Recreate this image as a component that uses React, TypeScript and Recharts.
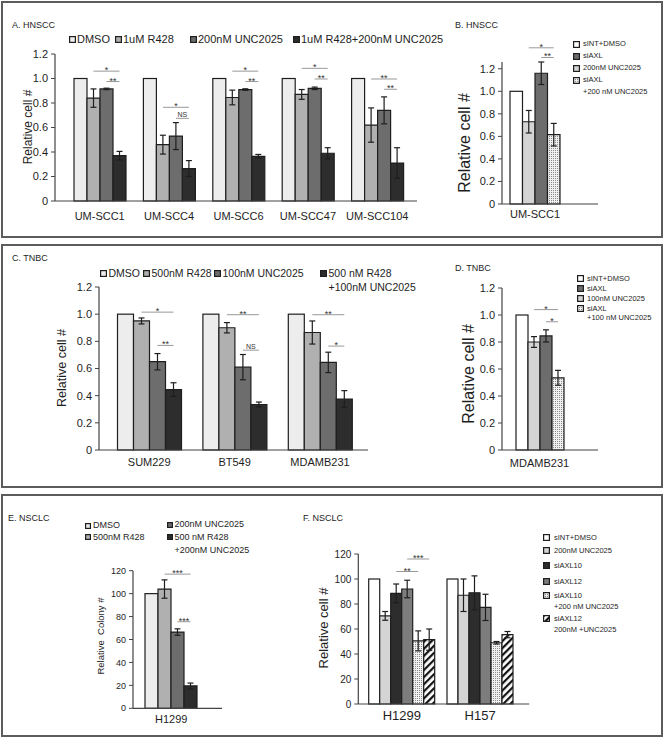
import React from "react";
import { BarChart, Bar, XAxis, YAxis, ErrorBar } from "recharts";

const FONT = '"Liberation Sans", Arial, sans-serif';
const INK = "#1e1e1e";
const AXIS = "#444";
const SIG = "#999";

// colours
const C_DMSO = "#ededed";
const C_R428 = "#b0b0b0";
const C_UNC = "#6d6d6d";
const C_COMBO = "#2d2d2d";
const C_WHITE = "#ffffff";
const C_LIGHT = "#d4d4d4";
const C_SI12 = "#7d7d7d";
const DOTS = "url(#dotFill)";
const HATCH = "url(#hatchFill)";

// ---------- A. HNSCC (drugs)
const hnsccCells = ["UM-SCC1", "UM-SCC4", "UM-SCC6", "UM-SCC47", "UM-SCC104"];
const hnsccDmso = [1, 1, 1, 1, 1];
const hnsccR428 = [0.84, 0.46, 0.845, 0.87, 0.62];
const hnsccR428Err = [0.075, 0.077, 0.06, 0.04, 0.14];
const hnsccUnc = [0.915, 0.53, 0.91, 0.92, 0.74];
const hnsccUncErr = [0.006, 0.11, 0.006, 0.01, 0.11];
const hnsccCombo = [0.37, 0.265, 0.365, 0.39, 0.31];
const hnsccComboErr = [0.035, 0.065, 0.015, 0.045, 0.125];

// ---------- B. HNSCC (siRNA)
const hnsccSiCells = ["UM-SCC1"];
const bCtrl = [1];
const bUnc = [0.73];
const bUncErr = [0.1];
const bSiAxl = [1.16];
const bSiAxlErr = [0.1];
const bCombo = [0.615];
const bComboErr = [0.1];

// ---------- C. TNBC (drugs)
const tnbcCells = ["SUM229", "BT549", "MDAMB231"];
const tnbcDmso = [1, 1, 1];
const tnbcR428 = [0.95, 0.9, 0.865];
const tnbcR428Err = [0.022, 0.038, 0.085];
const tnbcUnc = [0.65, 0.61, 0.645];
const tnbcUncErr = [0.06, 0.093, 0.075];
const tnbcCombo = [0.445, 0.335, 0.375];
const tnbcComboErr = [0.05, 0.018, 0.062];

// ---------- D. TNBC (siRNA)
const tnbcSiCells = ["MDAMB231"];
const dCtrl = [1];
const dUnc = [0.8];
const dUncErr = [0.04];
const dSiAxl = [0.845];
const dSiAxlErr = [0.045];
const dCombo = [0.535];
const dComboErr = [0.055];

// ---------- E. NSCLC colony
const nsclcColonyCells = ["H1299"];
const eDmso = [100];
const eR428 = [104];
const eR428Err = [8];
const eUnc = [66.5];
const eUncErr = [2.8];
const eCombo = [19.5];
const eComboErr = [2.5];

// ---------- F. NSCLC siRNA
const nsclcCells = ["H1299", "H157"];
const fCtrl = [100, 100];
const fUnc = [70.5, 87];
const fUncErr = [3.5, 13];
const fSi10 = [88.5, 89];
const fSi10Err = [7.5, 13.5];
const fSi12 = [92, 77.3];
const fSi12Err = [7, 10.5];
const fSi10Unc = [50.5, 49];
const fSi10UncErr = [8, 1];
const fSi12Unc = [51.5, 55.5];
const fSi12UncErr = [8.5, 2.5];

const ticks12 = [0, 0.2, 0.4, 0.6, 0.8, 1.0, 1.2];
const ticks120 = [0, 20, 40, 60, 80, 100, 120];

type Series = { key: string; name: string; fill: string; values: number[]; errs?: number[] };
type Sig = { cat: string; from: number; to: number; level: number; text: string };

const seriesA: Series[] = [
  { key: "dmso", name: "DMSO", fill: C_DMSO, values: hnsccDmso },
  { key: "r428", name: "1uM R428", fill: C_R428, values: hnsccR428, errs: hnsccR428Err },
  { key: "unc", name: "200nM UNC2025", fill: C_UNC, values: hnsccUnc, errs: hnsccUncErr },
  { key: "combo", name: "1uM R428+200nM UNC2025", fill: C_COMBO, values: hnsccCombo, errs: hnsccComboErr },
];
const sigA: Sig[] = [
  { cat: "UM-SCC1", from: 1, to: 3, level: 1.06, text: "*" },
  { cat: "UM-SCC1", from: 2, to: 3, level: 0.975, text: "**" },
  { cat: "UM-SCC4", from: 1, to: 3, level: 0.765, text: "*" },
  { cat: "UM-SCC4", from: 2, to: 3, level: 0.675, text: "NS" },
  { cat: "UM-SCC6", from: 1, to: 3, level: 1.06, text: "*" },
  { cat: "UM-SCC6", from: 2, to: 3, level: 0.975, text: "**" },
  { cat: "UM-SCC47", from: 1, to: 3, level: 1.083, text: "*" },
  { cat: "UM-SCC47", from: 2, to: 3, level: 0.996, text: "**" },
  { cat: "UM-SCC104", from: 1, to: 3, level: 0.996, text: "**" },
  { cat: "UM-SCC104", from: 2, to: 3, level: 0.912, text: "**" },
];

const seriesB: Series[] = [
  { key: "ctrl", name: "sINT+DMSO", fill: C_WHITE, values: bCtrl },
  { key: "unc", name: "200nM UNC2025", fill: C_LIGHT, values: bUnc, errs: bUncErr },
  { key: "si", name: "siAXL", fill: C_UNC, values: bSiAxl, errs: bSiAxlErr },
  { key: "combo", name: "siAXL\n+200 nM UNC2025", fill: DOTS, values: bCombo, errs: bComboErr },
];
const sigB: Sig[] = [
  { cat: "UM-SCC1", from: 1, to: 3, level: 1.386, text: "*" },
  { cat: "UM-SCC1", from: 2, to: 3, level: 1.3, text: "**" },
];

const seriesC: Series[] = [
  { key: "dmso", name: "DMSO", fill: C_DMSO, values: tnbcDmso },
  { key: "r428", name: "500nM R428", fill: C_R428, values: tnbcR428, errs: tnbcR428Err },
  { key: "unc", name: "100nM UNC2025", fill: C_UNC, values: tnbcUnc, errs: tnbcUncErr },
  { key: "combo", name: "500 nM R428\n+100nM UNC2025", fill: C_COMBO, values: tnbcCombo, errs: tnbcComboErr },
];
const sigC: Sig[] = [
  { cat: "SUM229", from: 1, to: 3, level: 1.015, text: "*" },
  { cat: "SUM229", from: 2, to: 3, level: 0.77, text: "**" },
  { cat: "BT549", from: 1, to: 3, level: 0.996, text: "**" },
  { cat: "BT549", from: 2, to: 3, level: 0.735, text: "NS" },
  { cat: "MDAMB231", from: 1, to: 3, level: 0.996, text: "**" },
  { cat: "MDAMB231", from: 2, to: 3, level: 0.765, text: "*" },
];

const seriesD: Series[] = [
  { key: "ctrl", name: "sINT+DMSO", fill: C_WHITE, values: dCtrl },
  { key: "unc", name: "100nM UNC2025", fill: C_LIGHT, values: dUnc, errs: dUncErr },
  { key: "si", name: "siAXL", fill: C_UNC, values: dSiAxl, errs: dSiAxlErr },
  { key: "combo", name: "siAXL\n+100 nM UNC2025", fill: DOTS, values: dCombo, errs: dComboErr },
];
const sigD: Sig[] = [
  { cat: "MDAMB231", from: 1, to: 3, level: 1.04, text: "*" },
  { cat: "MDAMB231", from: 2, to: 3, level: 0.95, text: "*" },
];

const seriesE: Series[] = [
  { key: "dmso", name: "DMSO", fill: C_DMSO, values: eDmso },
  { key: "r428", name: "500nM R428", fill: C_R428, values: eR428, errs: eR428Err },
  { key: "unc", name: "200nM UNC2025", fill: C_UNC, values: eUnc, errs: eUncErr },
  { key: "combo", name: "500 nM R428\n+200nM UNC2025", fill: C_COMBO, values: eCombo, errs: eComboErr },
];
const sigE: Sig[] = [
  { cat: "H1299", from: 1, to: 3, level: 117, text: "***" },
  { cat: "H1299", from: 2, to: 3, level: 75.5, text: "***" },
];

const seriesF: Series[] = [
  { key: "ctrl", name: "sINT+DMSO", fill: C_WHITE, values: fCtrl },
  { key: "unc", name: "200nM UNC2025", fill: C_LIGHT, values: fUnc, errs: fUncErr },
  { key: "si10", name: "siAXL10", fill: C_COMBO, values: fSi10, errs: fSi10Err },
  { key: "si12", name: "siAXL12", fill: C_SI12, values: fSi12, errs: fSi12Err },
  { key: "si10u", name: "siAXL10\n+200 nM UNC2025", fill: DOTS, values: fSi10Unc, errs: fSi10UncErr },
  { key: "si12u", name: "siAXL12\n200nM +UNC2025", fill: HATCH, values: fSi12Unc, errs: fSi12UncErr },
];
const sigF: Sig[] = [
  { cat: "H1299", from: 2, to: 4, level: 106, text: "**" },
  { cat: "H1299", from: 3, to: 5, level: 116, text: "***" },
];

function toRows(cats: string[], series: Series[]) {
  return cats.map((name, i) => {
    const row: Record<string, string | number> = { name };
    series.forEach((s) => {
      row[s.key] = s.values[i];
      if (s.errs) row[s.key + "Err"] = s.errs[i];
    });
    return row;
  });
}

// first bar of each group also draws the significance lines for that group
function controlShape(sigs: Sig[], key: string) {
  return (p: any) => {
    const { x, y, width, height, payload, fill } = p;
    const base = y + height;
    const perUnit = height / payload[key];
    return (
      <g>
        <rect x={x} y={y} width={width} height={height} fill={fill} stroke={INK} strokeWidth={1.2} />
        {sigs
          .filter((s) => s.cat === payload.name)
          .map((s, i) => {
            const x1 = x + s.from * width + width / 2;
            const x2 = x + s.to * width + width / 2;
            const yy = base - s.level * perUnit;
            const star = s.text.startsWith("*");
            return (
              <g key={i}>
                <line x1={x1} x2={x2} y1={yy} y2={yy} stroke={SIG} strokeWidth={1} />
                <text
                  x={(x1 + x2) / 2}
                  y={star ? yy + 2 : yy - 1.5}
                  textAnchor="middle"
                  fontSize={star ? 9 : 7}
                  fontFamily={FONT}
                  fill="#333"
                >
                  {s.text}
                </text>
              </g>
            );
          })}
      </g>
    );
  };
}

type Box = { left: number; top: number; width: number; height: number };
type Plot = { x0: number; x1: number; y0: number; y1: number };

function GroupedBars(props: {
  cats: string[];
  series: Series[];
  sigs: Sig[];
  box: Box;
  plot: Plot;
  yMax: number;
  yTicks: number[];
  decimals: number;
  pad: { left: number; right: number };
  barSize: number;
  tickFont: number;
  catFont: number;
  catMargin: number;
}) {
  const { cats, series, sigs, box, plot, yMax, yTicks, decimals, pad, barSize, tickFont, catFont, catMargin } = props;
  const yw = 40;
  const xh = 25;
  const margin = {
    left: plot.x0 - box.left - yw,
    top: plot.y0 - box.top,
    right: box.left + box.width - plot.x1,
    bottom: box.top + box.height - plot.y1 - xh,
  };
  const rows = toRows(cats, series);
  return (
    <div style={{ position: "absolute", left: box.left, top: box.top }}>
      <BarChart width={box.width} height={box.height} data={rows} margin={margin} barGap={0} barSize={barSize}>
        <XAxis
          dataKey="name"
          height={xh}
          padding={pad}
          interval={0}
          tickLine={false}
          tickSize={0}
          tickMargin={catMargin}
          axisLine={{ stroke: AXIS, strokeWidth: 1.2 }}
          tick={{ fontSize: catFont, fill: INK, fontFamily: FONT }}
        />
        <YAxis
          width={yw}
          type="number"
          domain={[0, () => yMax]}
          ticks={yTicks}
          tickCount={yTicks.length}
          interval={0}
          tickSize={4}
          tickMargin={3}
          tickFormatter={(v: number) => (v === 0 ? "0" : v.toFixed(decimals))}
          axisLine={{ stroke: AXIS, strokeWidth: 1.2 }}
          tickLine={{ stroke: AXIS }}
          tick={{ fontSize: tickFont, fill: INK, fontFamily: FONT }}
        />
        {series.map((s, i) => (
          <Bar
            key={s.key}
            dataKey={s.key}
            name={s.name}
            fill={s.fill}
            stroke={INK}
            strokeWidth={1.2}
            isAnimationActive={false}
            shape={i === 0 ? controlShape(sigs, s.key) : undefined}
          >
            {s.errs && (
              <ErrorBar dataKey={s.key + "Err"} width={3} stroke={INK} strokeWidth={1.2} direction="y" isAnimationActive={false} />
            )}
          </Bar>
        ))}
      </BarChart>
    </div>
  );
}

function Swatch({ fill, size }: { fill: string; size: number }) {
  return (
    <svg width={size} height={size} style={{ display: "block" }}>
      <rect x={0.6} y={0.6} width={size - 1.2} height={size - 1.2} fill={fill} stroke={INK} strokeWidth={1.2} />
    </svg>
  );
}

function LegendItems(props: {
  series: Series[];
  pos: { x: number; y: number }[];
  font: number;
  lh: number;
  gap: number;
  sw: number;
}) {
  const { series, pos, font, lh, gap, sw } = props;
  return (
    <>
      {series.map((s, i) => (
        <div
          key={s.key}
          style={{
            position: "absolute",
            left: pos[i].x,
            top: pos[i].y - lh / 2,
            display: "flex",
            alignItems: "flex-start",
            fontSize: font,
            lineHeight: `${lh}px`,
            whiteSpace: "nowrap",
            color: INK,
          }}
        >
          <div style={{ marginTop: (lh - sw) / 2, marginRight: gap }}>
            <Swatch fill={s.fill} size={sw} />
          </div>
          <div>
            {s.name.split("\n").map((t, k) => (
              <div key={k}>{t}</div>
            ))}
          </div>
        </div>
      ))}
    </>
  );
}

function VTitle({ text, cx, cy, size }: { text: string; cx: number; cy: number; size: number }) {
  return (
    <div
      style={{
        position: "absolute",
        left: cx,
        top: cy,
        transform: "translate(-50%, -50%) rotate(-90deg)",
        whiteSpace: "pre",
        fontSize: size,
        lineHeight: 1,
        color: INK,
      }}
    >
      {text}
    </div>
  );
}

function Title({ text, x, y }: { text: string; x: number; y: number }) {
  return (
    <div style={{ position: "absolute", left: x, top: y - 6, fontSize: 9, lineHeight: "12px", color: INK }}>{text}</div>
  );
}

const frame = (top: number, height: number): React.CSSProperties => ({
  position: "absolute",
  left: 1,
  top,
  width: 662,
  height,
  border: "2px solid #5c5c5c",
  boxSizing: "border-box",
});

export default function App() {
  const pick = (s: Series[], order: number[]) => order.map((i) => s[i]);
  return (
    <div
      style={{
        position: "absolute",
        left: 0,
        top: 0,
        width: 665,
        height: 738,
        background: "#fff",
        fontFamily: FONT,
        overflow: "hidden",
      }}
    >
      <svg width={0} height={0} style={{ position: "absolute" }}>
        <defs>
          <pattern id="dotFill" width={2} height={2} patternUnits="userSpaceOnUse">
            <rect width={2} height={2} fill="#f0f0f0" />
            <rect x={0} y={0} width={1} height={1} fill="#8a8a8a" />
          </pattern>
          <pattern id="hatchFill" width={5} height={5} patternUnits="userSpaceOnUse" patternTransform="rotate(45)">
            <rect width={5} height={5} fill="#fff" />
            <rect width={2.2} height={5} fill="#111" />
          </pattern>
        </defs>
      </svg>

      <div style={frame(1, 237)} />
      <div style={frame(244, 244)} />
      <div style={frame(494, 243)} />

      {/* A */}
      <Title text="A. HNSCC" x={12} y={25} />
      <LegendItems
        series={seriesA}
        pos={[
          { x: 69, y: 39 },
          { x: 115, y: 39 },
          { x: 190, y: 39 },
          { x: 293, y: 39 },
        ]}
        font={11}
        lh={13}
        gap={1}
        sw={7}
      />
      <VTitle text="Relative cell #" cx={28} cy={127} size={12} />
      <GroupedBars
        cats={hnsccCells}
        series={seriesA}
        sigs={sigA}
        box={{ left: 5, top: 40, width: 420, height: 190 }}
        plot={{ x0: 55, x1: 417, y0: 54, y1: 201 }}
        yMax={1.2}
        yTicks={ticks12}
        decimals={1}
        pad={{ left: 10, right: 5 }}
        barSize={13}
        tickFont={11}
        catFont={11}
        catMargin={11}
      />

      {/* B */}
      <Title text="B. HNSCC" x={455} y={25} />
      <LegendItems
        series={pick(seriesB, [0, 2, 1, 3])}
        pos={[
          { x: 573, y: 44 },
          { x: 573, y: 56 },
          { x: 573, y: 68 },
          { x: 573, y: 80 },
        ]}
        font={7.5}
        lh={11.5}
        gap={3}
        sw={7}
      />
      <VTitle text="Relative cell #" cx={465} cy={143} size={16} />
      <GroupedBars
        cats={hnsccSiCells}
        series={seriesB}
        sigs={sigB}
        box={{ left: 455, top: 20, width: 150, height: 210 }}
        plot={{ x0: 502, x1: 598, y0: 62, y1: 204 }}
        yMax={1.2}
        yTicks={ticks12}
        decimals={1}
        pad={{ left: 0, right: 30 }}
        barSize={12.5}
        tickFont={11}
        catFont={11}
        catMargin={6}
      />

      {/* C */}
      <Title text="C. TNBC" x={12} y={258} />
      <LegendItems
        series={seriesC}
        pos={[
          { x: 100, y: 273 },
          { x: 143, y: 273 },
          { x: 214, y: 273 },
          { x: 320, y: 273 },
        ]}
        font={10.5}
        lh={14}
        gap={1.5}
        sw={7}
      />
      <VTitle text="Relative cell #" cx={62} cy={368} size={12.5} />
      <GroupedBars
        cats={tnbcCells}
        series={seriesC}
        sigs={sigC}
        box={{ left: 45, top: 275, width: 330, height: 205 }}
        plot={{ x0: 99, x1: 368, y0: 287, y1: 450 }}
        yMax={1.2}
        yTicks={ticks12}
        decimals={1}
        pad={{ left: 7.5, right: 5.3 }}
        barSize={16}
        tickFont={11}
        catFont={11}
        catMargin={8}
      />

      {/* D */}
      <Title text="D. TNBC" x={455} y={268} />
      <LegendItems
        series={pick(seriesD, [0, 2, 1, 3])}
        pos={[
          { x: 577, y: 278 },
          { x: 577, y: 288 },
          { x: 577, y: 298.5 },
          { x: 577, y: 308.5 },
        ]}
        font={7.5}
        lh={9}
        gap={3}
        sw={7}
      />
      <VTitle text="Relative cell #" cx={469} cy={374} size={16} />
      <GroupedBars
        cats={tnbcSiCells}
        series={seriesD}
        sigs={sigD}
        box={{ left: 455, top: 275, width: 150, height: 205 }}
        plot={{ x0: 502, x1: 598, y0: 288, y1: 450 }}
        yMax={1.2}
        yTicks={ticks12}
        decimals={1}
        pad={{ left: 0, right: 21 }}
        barSize={12}
        tickFont={11}
        catFont={11}
        catMargin={9}
      />

      {/* E */}
      <Title text="E. NSCLC" x={8} y={518} />
      <LegendItems
        series={seriesE}
        pos={[
          { x: 85, y: 525.5 },
          { x: 85, y: 537 },
          { x: 166.5, y: 524.5 },
          { x: 166.5, y: 537 },
        ]}
        font={9}
        lh={13}
        gap={2}
        sw={6}
      />
      <VTitle text={"Relative  Colony #"} cx={101} cy={636} size={9.5} />
      <GroupedBars
        cats={nsclcColonyCells}
        series={seriesE}
        sigs={sigE}
        box={{ left: 85, top: 560, width: 150, height: 175 }}
        plot={{ x0: 133, x1: 222, y0: 570.7, y1: 708.3 }}
        yMax={120}
        yTicks={ticks120}
        decimals={0}
        pad={{ left: 0, right: 12.6 }}
        barSize={13}
        tickFont={9}
        catFont={11}
        catMargin={7}
      />

      {/* F */}
      <Title text="F. NSCLC" x={303} y={518} />
      <LegendItems
        series={seriesF}
        pos={[
          { x: 543, y: 537 },
          { x: 543, y: 550.5 },
          { x: 543, y: 565.5 },
          { x: 543, y: 581.5 },
          { x: 543, y: 595.5 },
          { x: 543, y: 618 },
        ]}
        font={7.5}
        lh={11}
        gap={4}
        sw={7}
      />
      <VTitle text="Relative cell #" cx={323} cy={628} size={13} />
      <GroupedBars
        cats={nsclcCells}
        series={seriesF}
        sigs={sigF}
        box={{ left: 305, top: 540, width: 235, height: 195 }}
        plot={{ x0: 358.3, x1: 529.3, y0: 554, y1: 704 }}
        yMax={120}
        yTicks={ticks120}
        decimals={0}
        pad={{ left: 4.4, right: 10 }}
        barSize={11}
        tickFont={10}
        catFont={13}
        catMargin={7}
      />
    </div>
  );
}
